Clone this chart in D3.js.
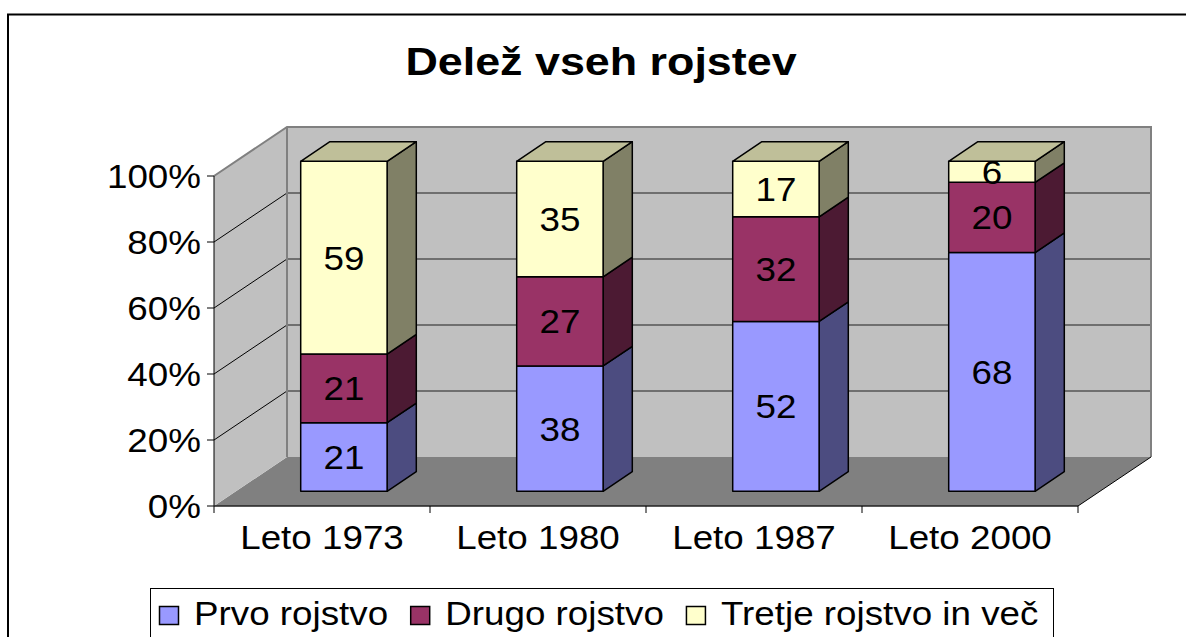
<!DOCTYPE html>
<html>
<head>
<meta charset="utf-8">
<script src="https://cdn.jsdelivr.net/npm/d3@7"></script>
<style>
  body { margin: 0; background: #fff; }
  text { font-family: "Liberation Sans", Arial, sans-serif; fill: #000; }
</style>
</head>
<body>
<svg width="1186" height="637"></svg>
<script>
// data
var years = ["Leto 1973", "Leto 1980", "Leto 1987", "Leto 2000"];
var prvo = [21, 38, 52, 68];
var drugo = [21, 27, 32, 20];
var tretje = [59, 35, 17, 6];
var seriesNames = ["Prvo rojstvo", "Drugo rojstvo", "Tretje rojstvo in več"];
var yTicks = [0, 0.2, 0.4, 0.6, 0.8, 1];

var keys = ["prvo", "drugo", "tretje"];
var colors = {
  prvo:   {front: "#9999ff", side: "#4c4c80", top: "#7373bf"},
  drugo:  {front: "#993366", side: "#4c1a33", top: "#73264d"},
  tretje: {front: "#ffffcc", side: "#808066", top: "#bfbf99"}
};

var rows = years.map(function(y, i) {
  return {year: y, prvo: prvo[i], drugo: drugo[i], tretje: tretje[i]};
});

var svg = d3.select("svg");
var fs = 33, sx = 1.115; // picture text is stretched a bit sideways

var x0 = d3.scaleBand().domain(years).range([214, 1078]);
var xb = d3.scaleBand().domain(years).range([214, 1078]).paddingInner(0.6).paddingOuter(0.3);
var y = d3.scaleLinear().domain([0, 1]).range([506, 176]);
var depth = {dx: 73, dy: -49};
var d0 = 0.3, d1 = 0.7; // bar sits in the middle of the depth

function P(px, py, d) { return [px + depth.dx * d, py + depth.dy * d]; }
function poly(pts) { return "M" + pts.map(function(p) { return p.join(","); }).join("L") + "Z"; }

function label(g, x, y, str, size, anchor, scale, weight) {
  return g.append("text")
    .attr("transform", "translate(" + x + "," + y + ") scale(" + scale + ",1)")
    .attr("text-anchor", anchor)
    .style("font-size", size + "px")
    .style("font-weight", weight || "normal")
    .text(str);
}

// outer frame
svg.append("rect")
  .attr("x", 8).attr("y", 14.5).attr("width", 1200).attr("height", 700)
  .attr("fill", "none").attr("stroke", "#000").attr("stroke-width", 2);

// title
label(svg, 601, 75, "Delež vseh rojstev", 38, "middle", 1.18, "bold");

// walls and floor
var xl = x0.range()[0], xr = x0.range()[1];
svg.append("path")
  .attr("d", poly([P(xl, y(0), 0), P(xl, y(0), 1), P(xr, y(0), 1), P(xr, y(0), 0)]))
  .attr("fill", "#808080");
svg.append("path")
  .attr("d", poly([P(xl, y(0), 0), P(xl, y(1), 0), P(xl, y(1), 1), P(xl, y(0), 1)]))
  .attr("fill", "#c0c0c0");
svg.append("path")
  .attr("d", poly([P(xl, y(0), 1), P(xl, y(1), 1), P(xr, y(1), 1), P(xr, y(0), 1)]))
  .attr("fill", "#c0c0c0");

// gridlines
var inner = yTicks.filter(function(t) { return t > 0 && t < 1; });
svg.selectAll(".gback").data(inner).enter().append("line")
  .attr("x1", P(xl, 0, 1)[0]).attr("x2", P(xr, 0, 1)[0])
  .attr("y1", function(t) { return P(0, y(t), 1)[1]; })
  .attr("y2", function(t) { return P(0, y(t), 1)[1]; })
  .attr("stroke", "#555").attr("stroke-width", 1.5);
svg.selectAll(".gleft").data(inner).enter().append("line")
  .attr("x1", xl).attr("y1", function(t) { return y(t); })
  .attr("x2", P(xl, 0, 1)[0]).attr("y2", function(t) { return P(0, y(t), 1)[1]; })
  .attr("stroke", "#000").attr("stroke-width", 1);

// wall edges
svg.append("path")
  .attr("d", "M" + P(xl, y(1), 0) + "L" + P(xl, y(1), 1) + "L" + P(xr, y(1), 1) + "L" + P(xr, y(0), 1)
    + "M" + P(xl, y(1), 1) + "L" + P(xl, y(0), 1))
  .attr("fill", "none").attr("stroke", "#808080").attr("stroke-width", 2);
svg.append("line")
  .attr("x1", xr).attr("y1", y(0))
  .attr("x2", P(xr, 0, 1)[0]).attr("y2", P(0, y(0), 1)[1])
  .attr("stroke", "#000").attr("stroke-width", 1);

// axes lines + ticks
svg.append("line").attr("x1", xl).attr("x2", xl).attr("y1", y(1)).attr("y2", y(0))
  .attr("stroke", "#000").attr("stroke-width", 1);
svg.append("line").attr("x1", xl).attr("x2", xr).attr("y1", y(0)).attr("y2", y(0))
  .attr("stroke", "#222").attr("stroke-width", 1.5);
svg.selectAll(".ytick").data(yTicks).enter().append("line")
  .attr("x1", xl - 7).attr("x2", xl)
  .attr("y1", function(t) { return y(t); }).attr("y2", function(t) { return y(t); })
  .attr("stroke", "#000");
var xTickPos = years.map(function(c) { return x0(c); }).concat([xr]);
svg.selectAll(".xtick").data(xTickPos).enter().append("line")
  .attr("x1", function(d) { return d; }).attr("x2", function(d) { return d; })
  .attr("y1", y(0)).attr("y2", y(0) + 7)
  .attr("stroke", "#000");

yTicks.forEach(function(t) {
  label(svg, 201, y(t) + 12, d3.format(".0%")(t), fs, "end", sx);
});
years.forEach(function(c) {
  label(svg, x0(c) + x0.bandwidth() / 2, 549, c, fs, "middle", sx);
});

// stacked bars
var stack = d3.stack().keys(keys).offset(d3.stackOffsetExpand);
var series = stack(rows);
var bw = xb.bandwidth();

rows.forEach(function(r, i) {
  var g = svg.append("g");
  var bx = xb(r.year);
  series.forEach(function(s, k) {
    var v0 = s[i][0], v1 = s[i][1];
    var c = colors[s.key];
    var a = P(bx, y(v0), d0), b = P(bx + bw, y(v1), d0);
    // side face
    g.append("path")
      .attr("d", poly([P(bx + bw, y(v0), d0), P(bx + bw, y(v1), d0), P(bx + bw, y(v1), d1), P(bx + bw, y(v0), d1)]))
      .attr("fill", c.side).attr("stroke", "#000").attr("stroke-width", 1.5).attr("stroke-linejoin", "round");
    // front face
    g.append("path")
      .attr("d", poly([a, [a[0], b[1]], b, [b[0], a[1]]]))
      .attr("fill", c.front).attr("stroke", "#000").attr("stroke-width", 1.5).attr("stroke-linejoin", "round");
    if (k === series.length - 1) {
      g.append("path")
        .attr("d", poly([P(bx, y(v1), d0), P(bx + bw, y(v1), d0), P(bx + bw, y(v1), d1), P(bx, y(v1), d1)]))
        .attr("fill", c.top).attr("stroke", "#000").attr("stroke-width", 1.5).attr("stroke-linejoin", "round");
    }
    var cy = (a[1] + b[1]) / 2;
    label(g, (a[0] + b[0]) / 2, cy + 12, r[s.key], fs, "middle", sx);
  });
});

// legend
var leg = svg.append("g");
leg.append("rect")
  .attr("x", 150.5).attr("y", 588.5).attr("width", 903).attr("height", 80)
  .attr("fill", "#fff").attr("stroke", "#000").attr("stroke-width", 1);
var lx = 159;
keys.forEach(function(k, i) {
  leg.append("rect")
    .attr("x", lx + 0.5).attr("y", 606.5).attr("width", 19).attr("height", 18)
    .attr("fill", colors[k].front).attr("stroke", "#000").attr("stroke-width", 1.5);
  var t = label(leg, lx + 35, 625, seriesNames[i], fs, "start", sx);
  lx += 35 + t.node().getComputedTextLength() * sx + 22;
});
</script>
</body>
</html>
